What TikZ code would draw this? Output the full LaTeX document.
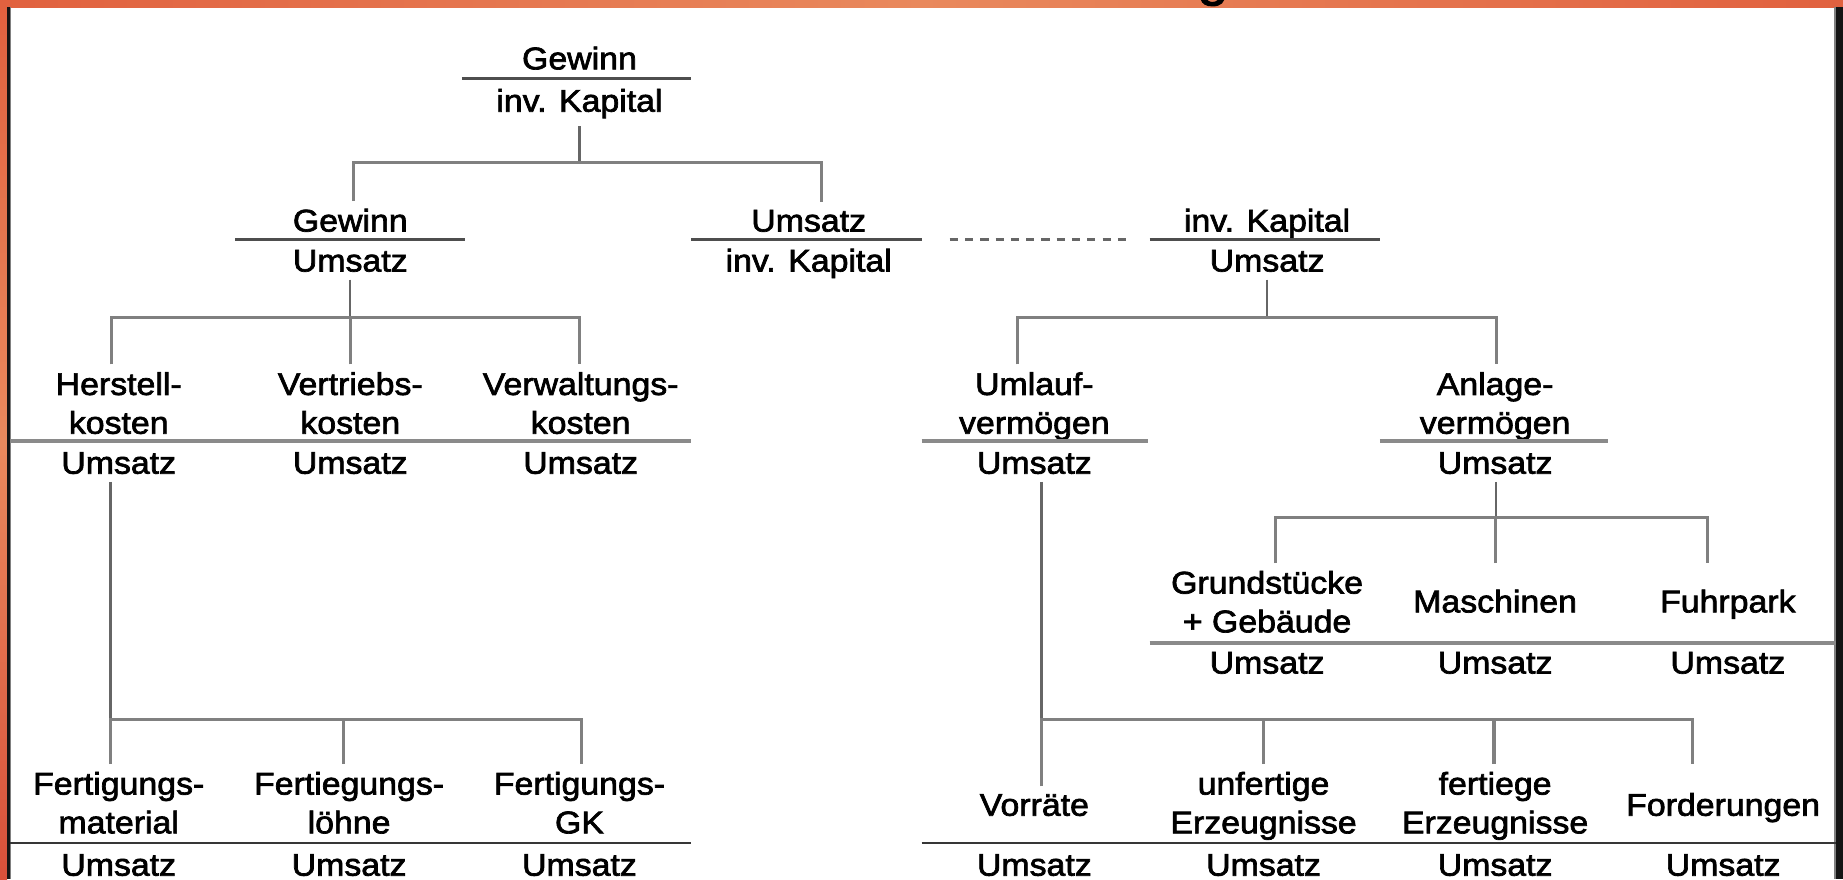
\documentclass[tikz,border=0pt]{standalone}
\usepackage{fontspec}
\setmainfont{Liberation Sans}[FakeStretch=1.08, FakeBold=2.2]
\usetikzlibrary{calc}
\definecolor{bandA}{HTML}{E1613F}
\definecolor{bandB}{HTML}{E9895D}
\definecolor{bandC}{HTML}{D8503A}
\definecolor{fracdk}{HTML}{4E4E4E}
\definecolor{fraclt}{HTML}{8A8A8A}
\definecolor{fracbt}{HTML}{363636}
\definecolor{brgray}{HTML}{808080}
\definecolor{stgray}{HTML}{666666}
\begin{document}
\begin{tikzpicture}[x=0.6pt,y=-0.6pt,
  lbl/.style={inner sep=0pt, outer ysep=4pt, align=center, anchor=base,
    font=\fontsize{16}{19.8}\selectfont},
  fracdark/.style={line width=1.5pt, draw=fracdk},
  fraclight/.style={line width=1.8pt, draw=fraclt},
  fracbottom/.style={line width=1.2pt, draw=fracbt},
  branch/.style={line width=1.6pt, draw=brgray},
  stem/.style={line width=1.2pt, draw=stgray},
  relation/.style={line width=1.4pt, draw=stgray, dash pattern=on 4.2pt off 3.6pt}]

\useasboundingbox (0,0) rectangle (1568,748);
\clip (0,0) rectangle (1568,748);
\fill[white] (0,0) rectangle (1568,748);

% frame: orange band on top and left, dark rules at both sides
\shade[left color=bandA, right color=bandA, middle color=bandB] (0,0) rectangle (1568,6);
\shade[top color=bandA, bottom color=bandC, middle color=bandB] (0,6) rectangle (6,748);
\fill[black!92] (6,6) rectangle (8.5,748);
\fill[gray] (8.5,6) rectangle (9.4,748);
\fill[gray] (1560.6,6) rectangle (1562.4,748);
\fill[black!92] (1562.4,6) rectangle (1568,748);
\node[inner sep=0pt, anchor=base, font=\fontsize{26}{26}\selectfont] (ttl) at (1032,-4) {g};

% return on investment
\node[lbl] (r0n) at (493,59) {Gewinn};
\node[lbl] (r0d) at (493,95) {inv. Kapital};
\coordinate (f0l) at (393,67); \coordinate (f0r) at (588,67);
\draw[fracdark] (f0l) -- (f0r);

% second level
\node[lbl] (gun) at (298,197) {Gewinn};
\node[lbl] (gud) at (298,231) {Umsatz};
\node[lbl] (ukn) at (688,197) {Umsatz};
\node[lbl] (ukd) at (688,231) {inv. Kapital};
\node[lbl] (kun) at (1078,197) {inv. Kapital};
\node[lbl] (kud) at (1078,231) {Umsatz};
\coordinate (f1a) at (200,204); \coordinate (f1b) at (396,204);
\coordinate (f1c) at (588,204); \coordinate (f1d) at (784,204);
\coordinate (f1e) at (978,204); \coordinate (f1f) at (1174,204);
\draw[fracdark] (f1a) -- (f1b);
\draw[fracdark] (f1c) -- (f1d);
\draw[fracdark] (f1e) -- (f1f);
\draw[relation] ($(f1d)+(24,0)$) -- ($(f1e)+(-20,0)$);

% cost ratios (two-line labels sit on the baseline of their last line)
\node[lbl] (hkn) at (101,369) {Herstell-\\kosten};
\node[lbl] (hkd) at (101,403) {Umsatz};
\node[lbl] (vtn) at (298,369) {Vertriebs-\\kosten};
\node[lbl] (vtd) at (298,403) {Umsatz};
\node[lbl] (vwn) at (494,369) {Verwaltungs-\\kosten};
\node[lbl] (vwd) at (494,403) {Umsatz};
% asset ratios
\node[lbl] (uvn) at (880,369) {Umlauf-\\vermögen};
\node[lbl] (uvd) at (880,403) {Umsatz};
\node[lbl] (avn) at (1272,369) {Anlage-\\vermögen};
\node[lbl] (avd) at (1272,403) {Umsatz};
\coordinate (f2a) at (8.5,375); \coordinate (f2b) at (588,375);
\coordinate (f2c) at (784,375); \coordinate (f2d) at (977,375);
\coordinate (f2e) at (1174,375); \coordinate (f2f) at (1368,375);
\draw[fraclight] (f2a) -- (f2b);
\draw[fraclight] (f2c) -- (f2d);
\draw[fraclight] (f2e) -- (f2f);

% fixed assets
\node[lbl] (ggn) at (1078,538) {Grundstücke\\+ Gebäude};
\node[lbl] (ggd) at (1078,573) {Umsatz};
\node[lbl] (man) at (1272,521) {Maschinen};
\node[lbl] (mad) at (1272,573) {Umsatz};
\node[lbl] (fpn) at (1470,521) {Fuhrpark};
\node[lbl] (fpd) at (1470,573) {Umsatz};
\coordinate (f3a) at (978,547); \coordinate (f3b) at (1562,547);
\draw[fraclight] (f3a) -- (f3b);

% production costs
\node[lbl] (fmn) at (101,709) {Fertigungs-\\material};
\node[lbl] (fmd) at (101,745) {Umsatz};
\node[lbl] (fln) at (297,709) {Fertiegungs-\\löhne};
\node[lbl] (fld) at (297,745) {Umsatz};
\node[lbl] (fgn) at (493,709) {Fertigungs-\\GK};
\node[lbl] (fgd) at (493,745) {Umsatz};
% current assets
\node[lbl] (vrn) at (880,694) {Vorräte};
\node[lbl] (vrd) at (880,745) {Umsatz};
\node[lbl] (ufn) at (1075,709) {unfertige\\Erzeugnisse};
\node[lbl] (ufd) at (1075,745) {Umsatz};
\node[lbl] (fen) at (1272,709) {fertiege\\Erzeugnisse};
\node[lbl] (fed) at (1272,745) {Umsatz};
\node[lbl] (fon) at (1466,694) {Forderungen};
\node[lbl] (fod) at (1466,745) {Umsatz};
\coordinate (f4a) at (8.5,717); \coordinate (f4b) at (588,717);
\coordinate (f4c) at (784,717); \coordinate (f4d) at (1562,717);
\draw[fracbottom] (f4a) -- (f4b);
\draw[fracbottom] (f4c) -- (f4d);

% junctions of the tree
\coordinate (j0) at (493,138);
\coordinate (j1) at (298,270);
\coordinate (j2) at (1078,270);
\coordinate (j3) at (1273,440);
\coordinate (j4) at (94,612);
\coordinate (j5) at (886,612);

% stems from each ratio down to its junction
\draw[stem] (r0d.south) -- (j0);
\draw[stem] (gud.south) -- (j1);
\draw[stem] (kud.south) -- (j2);
\draw[stem] (avd.south -| j3) -- (j3);
\draw[stem] (hkd.south -| j4) -- (j4);
\draw[stem] (uvd.south -| j5) -- (j5);

% branches to the components
\draw[branch] ($(gun.north)+(3,0)$) |- (j0) -| ($(ukn.north)+(11,0)$);
\draw[branch] ($(hkn.north)+(-6,0)$) |- (j1) -| ($(vwn.north)+(-1,0)$);
\draw[branch] (vtn.north) -- (vtn.north |- j1);
\draw[branch] ($(uvn.north)+(-14,0)$) |- (j2) -| ($(avn.north)+(1,0)$);
\draw[branch] ($(ggn.north)+(7,0)$) |- (j3) -| ($(fpn.north |- ggn.north)+(-17,0)$);
\draw[branch] (man.north |- ggn.north) -- (man.north |- j3);
\draw[branch] (fmn.north -| j4) -- (j4) -| ($(fgn.north)+(2,0)$);
\draw[branch] ($(fln.north)+(-5,0)$) -- ($(fln.north |- j4)+(-5,0)$);
\draw[branch] (vrn.north -| j5 |- ufn.north) -- (j5) -| ($(fon.north |- ufn.north)+(-26,0)$);
\draw[branch] (ufn.north) -- (ufn.north |- j5);
\draw[branch] ($(fen.north)+(-1,0)$) -- ($(fen.north |- j5)+(-1,0)$);
\end{tikzpicture}
\end{document}
